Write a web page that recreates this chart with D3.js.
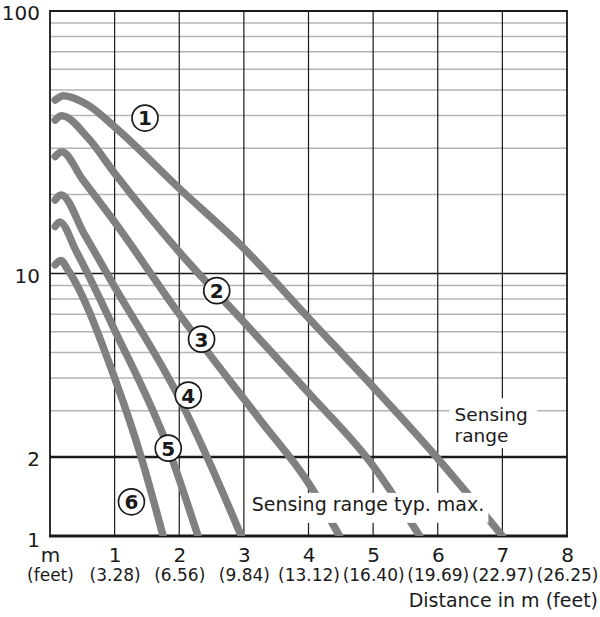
<!DOCTYPE html>
<html>
<head>
<meta charset="utf-8">
<script src="https://cdn.jsdelivr.net/npm/d3@7"></script>
<style>
  body { margin: 0; background: #fff; }
  text { font-family: "DejaVu Sans", sans-serif; fill: #1a1a1a; }
</style>
</head>
<body>
<div id="chart"></div>
<script>
// distance in m, value (log scale)
const curve1 = [[0.08, 45.8], [0.21, 47.6], [0.59, 43.8], [1, 36.2], [2, 21.1], [3, 12.47], [4, 6.77], [5, 3.7], [5.98, 2.0], [7, 1]];
const curve2 = [[0.08, 38.4], [0.18, 39.9], [0.59, 32.8], [1, 24.1], [2, 12.08], [3, 6.53], [4, 3.51], [5, 1.85], [5.72, 1]];
const curve3 = [[0.08, 27.9], [0.18, 29.1], [0.51, 22.7], [1, 15.7], [2, 7.0], [3.25, 2.77], [4, 1.59], [4.48, 1]];
const curve4 = [[0.08, 19.05], [0.17, 19.9], [0.54, 14.0], [1, 8.9], [2, 3.35], [2.43, 2], [2.96, 1]];
const curve5 = [[0.08, 15.1], [0.15, 15.7], [0.41, 12.1], [1, 6.09], [1.83, 2.16], [2.29, 1]];
const curve6 = [[0.08, 10.8], [0.17, 11.2], [0.28, 10.3], [1, 4.0], [1.41, 2], [1.75, 1]];
const curves = [curve1, curve2, curve3, curve4, curve5, curve6];

// circled curve numbers: [distance, value]
const curveLabels = ['1', '2', '3', '4', '5', '6'];
const labelPos = [[1.47, 39.1], [2.58, 8.6], [2.345, 5.62], [2.14, 3.44], [1.83, 2.16], [1.26, 1.35]];

const xTicks = [0, 1, 2, 3, 4, 5, 6, 7, 8];
const xTickLabels = ['m', '1', '2', '3', '4', '5', '6', '7', '8'];
const feetLabels = ['(feet)', '(3.28)', '(6.56)', '(9.84)', '(13.12)', '(16.40)', '(19.69)', '(22.97)', '(26.25)'];
const yTicks = [1, 2, 10, 100];

const W = 600, H = 617;
const x = d3.scaleLinear().domain([0, 8]).range([50, 567]);
const y = d3.scaleLog().domain([1, 100]).range([536, 11]);

const svg = d3.select('#chart').append('svg')
  .attr('width', W)
  .attr('height', H);

svg.append('clipPath').attr('id', 'plot')
  .append('rect')
  .attr('x', x(0)).attr('y', y(100))
  .attr('width', x(8) - x(0)).attr('height', y(1) - y(100));

// minor horizontal grid
const minor = y.ticks().filter(d => yTicks.indexOf(d) < 0);
svg.append('g').selectAll('line').data(minor).enter().append('line')
  .attr('x1', x(0)).attr('x2', x(8))
  .attr('y1', d => y(d)).attr('y2', d => y(d))
  .attr('stroke', '#b4b4b4').attr('stroke-width', 1.5);

// vertical grid
svg.append('g').selectAll('line').data(xTicks.slice(1, 8)).enter().append('line')
  .attr('x1', d => x(d)).attr('x2', d => x(d))
  .attr('y1', y(100)).attr('y2', y(1))
  .attr('stroke', '#1a1a1a').attr('stroke-width', 1.2);

// major horizontal lines
svg.append('line').attr('x1', x(0)).attr('x2', x(8)).attr('y1', y(10)).attr('y2', y(10))
  .attr('stroke', '#1a1a1a').attr('stroke-width', 1.5);
svg.append('line').attr('x1', x(0)).attr('x2', x(8)).attr('y1', y(2)).attr('y2', y(2))
  .attr('stroke', '#1a1a1a').attr('stroke-width', 2.5);

// frame
svg.append('path')
  .attr('d', `M${x(0)},${y(1)}V${y(100)}H${x(8)}V${y(1)}`)
  .attr('fill', 'none').attr('stroke', '#1a1a1a').attr('stroke-width', 1.8);
svg.append('line').attr('x1', x(0) - 1).attr('x2', x(8) + 1).attr('y1', y(1)).attr('y2', y(1))
  .attr('stroke', '#1a1a1a').attr('stroke-width', 3);

// curves
const line = d3.line()
  .x(d => x(d[0]))
  .y(d => y(d[1]))
  .curve(d3.curveMonotoneX);

svg.append('g').attr('clip-path', 'url(#plot)')
  .selectAll('path').data(curves).enter().append('path')
  .attr('d', line)
  .attr('fill', 'none')
  .attr('stroke', '#808080')
  .attr('stroke-width', 7.5)
  .attr('stroke-linecap', 'round')
  .attr('stroke-linejoin', 'round');

// annotation: Sensing range
svg.append('rect')
  .attr('x', x(6.18)).attr('y', y(3.35))
  .attr('width', 88).attr('height', 50)
  .attr('fill', '#fff');
svg.append('text')
  .attr('x', x(6.26)).attr('y', y(2.75))
  .attr('font-size', 18.5)
  .text('Sensing');
svg.append('text')
  .attr('x', x(6.26)).attr('y', y(2.75) + 21.5)
  .attr('font-size', 18.5)
  .text('range');

// annotation: Sensing range typ. max.
svg.append('rect')
  .attr('x', x(3.07)).attr('y', y(1.46))
  .attr('width', 240).attr('height', 30)
  .attr('fill', '#fff');
svg.append('text')
  .attr('x', x(3.12)).attr('y', y(1.245))
  .attr('font-size', 19)
  .text('Sensing range typ. max.');

// circled labels
const lab = svg.append('g').selectAll('g').data(curveLabels).enter().append('g')
  .attr('transform', (d, i) => `translate(${x(labelPos[i][0])},${y(labelPos[i][1])})`);
lab.append('circle').attr('r', 13)
  .attr('fill', '#fff').attr('stroke', '#1a1a1a').attr('stroke-width', 1.7);
lab.append('text')
  .attr('text-anchor', 'middle')
  .attr('dy', '0.37em')
  .attr('font-size', 20)
  .attr('font-weight', 'bold')
  .text(d => d);

// y axis labels
const yAxis = d3.axisLeft(y).tickValues(yTicks).tickSize(0).tickPadding(0).tickFormat(d3.format('d'));
const gy = svg.append('g').attr('transform', 'translate(40,0)').call(yAxis);
gy.select('.domain').remove();
gy.selectAll('text').attr('font-size', 20).attr('font-family', '"DejaVu Sans", sans-serif')
  .attr('fill', '#1a1a1a').attr('dy', d => d === 1 ? '0.52em' : '0.43em');

// x axis labels
const xAxis = d3.axisBottom(x).tickValues(xTicks).tickSize(0).tickPadding(0)
  .tickFormat((d, i) => xTickLabels[i]);
const gx = svg.append('g').attr('transform', `translate(0,${y(1)})`).call(xAxis);
gx.select('.domain').remove();
gx.selectAll('text').attr('font-size', 20).attr('font-family', '"DejaVu Sans", sans-serif')
  .attr('fill', '#1a1a1a').attr('y', 26).attr('dy', 0);
gx.selectAll('.tick').append('text')
  .attr('y', 45).attr('dy', 0)
  .attr('font-size', 17).attr('font-family', '"DejaVu Sans", sans-serif')
  .attr('fill', '#1a1a1a').attr('text-anchor', 'middle')
  .text((d, i) => feetLabels[i]);

svg.append('text')
  .attr('x', 598).attr('y', 607)
  .attr('text-anchor', 'end')
  .attr('font-size', 19)
  .text('Distance in m (feet)');
</script>
</body>
</html>
